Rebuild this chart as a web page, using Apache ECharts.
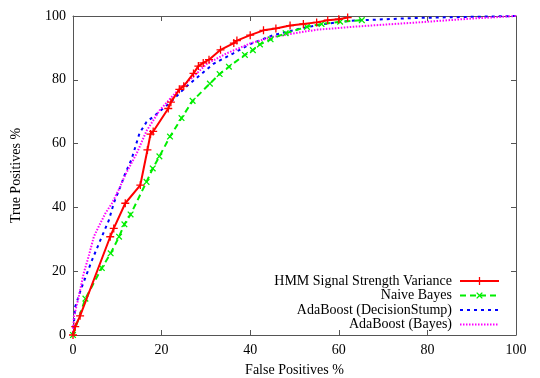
<!DOCTYPE html>
<html>
<head>
<meta charset="utf-8">
<script src="https://cdn.jsdelivr.net/npm/echarts@6/dist/echarts.min.js"></script>
<style>html,body{margin:0;padding:0;background:#fff}#c{width:540px;height:378px}</style>
</head>
<body>
<div id="c"></div>
<script>
const seriesNames = ["HMM Signal Strength Variance", "Naive Bayes", "AdaBoost (DecisionStump)", "AdaBoost (Bayes)"];
const hmmData = [[0,0],[0.5,2.6],[1.6,6],[8.4,30.8],[9.2,33.4],[11.8,41.3],[15.2,47],[16.8,58],[17.5,63],[18.1,63.8],[21.5,71],[22.1,73],[24,77],[25,78],[27.2,82],[28.3,84.3],[29.4,85.3],[30.7,86.3],[33.3,89.4],[36.3,91.5],[37,92.3],[40,94],[43,95.5],[45.8,96.1],[49,97],[52,97.5],[55,98],[57.5,98.7],[60,99],[62,99.5]];
const naiveBayesData = [[0,0],[2.8,11.4],[6.5,21],[8.5,25.6],[10.4,30.8],[11.6,34.7],[13,37.8],[16.6,48],[18,52.2],[19.5,56],[21.9,62.2],[24.5,68],[27,73.4],[30.9,78.8],[33.1,81.8],[35.2,84.1],[38.8,87.8],[40.6,89.3],[42.2,91.1],[44.6,92.7],[48,94.6],[52.8,96.6],[56.1,97.5],[60.3,98.2],[65.2,98.7]];
const adaStumpData = [[0,0],[0.1,2],[0.5,8.9],[2,15.1],[4.3,23.5],[6.2,29.8],[8.1,36],[9.2,41.3],[10.7,46.5],[11.8,50.7],[13.2,55],[15,63.2],[16.6,66.8],[18.1,68.4],[21.9,72.8],[25.5,77.8],[28.7,81.5],[31.7,85],[36.2,88.3],[40,91.2],[45.2,94],[51.2,96],[55.8,97.3],[62.5,98.5],[77.6,99.4],[100,100]];
const adaBayesData = [[0,0],[0.2,5.7],[1.3,12],[2.4,19.3],[3.5,24.5],[4.7,30.8],[5.8,34],[7.3,38.1],[8.8,41.3],[10.3,45.5],[11.8,50.2],[14.4,57],[16.6,64],[19.6,70.5],[23.4,76.3],[26.4,80],[30.2,85],[34.7,88.3],[40,91.4],[45.2,93.5],[55,95.7],[65,96.8],[78,98],[90,99.2],[100,100]];
const xTicks = [0,20,40,60,80,100];
const yTicks = [0,20,40,60,80,100];
const xTitle = "False Positives %";
const yTitle = "True Positives %";

const FONT = "'Liberation Serif','DejaVu Serif',serif";
const PLUS = 'path://M-1,-0.16L-0.16,-0.16L-0.16,-1L0.16,-1L0.16,-0.16L1,-0.16L1,0.16L0.16,0.16L0.16,1L-0.16,1L-0.16,0.16L-1,0.16Z';
const frameColor = '#555';

function axisBase(pos, show) {
  return {
    type: 'value', min: xTicks[0], max: xTicks[xTicks.length-1], interval: 20, position: pos,
    axisLine: {show: true, onZero: false, lineStyle: {color: frameColor, width: 1}},
    axisTick: {show: true, inside: true, length: 5, lineStyle: {color: frameColor}},
    splitLine: {show: false},
    axisLabel: {show: show, color: '#000', fontFamily: FONT, fontSize: 14, margin: 8}
  };
}
const xMain = Object.assign(axisBase('bottom', true), {name: xTitle, nameLocation: 'middle', nameGap: 28, nameTextStyle: {fontFamily: FONT, fontSize: 14, color: '#000'}});
const xTop = axisBase('top', false);
const yMain = Object.assign(axisBase('left', true), {min: yTicks[0], max: yTicks[yTicks.length-1], name: yTitle, nameLocation: 'middle', nameGap: 50, nameTextStyle: {fontFamily: FONT, fontSize: 14, color: '#000'}});
yMain.axisLabel.margin = 7;
const yRight = Object.assign(axisBase('right', false), {min: yTicks[0], max: yTicks[yTicks.length-1]});

const chart = echarts.init(document.getElementById('c'), null, {renderer: 'canvas'});
chart.setOption({
  animation: false,
  backgroundColor: '#fff',
  grid: {left: 73, right: 24, top: 16, bottom: 43, containLabel: false, outerBoundsMode: 'none'},
  xAxis: [xMain, xTop],
  yAxis: [yMain, yRight],
  legend: {
    data: seriesNames, orient: 'vertical', right: 40, top: 274, align: 'right',
    itemWidth: 39, itemHeight: 10, itemGap: 0.5, padding: 0,
    textStyle: {fontFamily: FONT, fontSize: 14, lineHeight: 12, color: '#000', padding: [0, 3, 0, 0]}
  },
  series: [
    {name: seriesNames[2], type: 'line', data: adaStumpData, z: 2, symbol: 'none', showSymbol: false,
     lineStyle: {color: '#0000ff', width: 2, type: [3, 4]}, itemStyle: {color: '#0000ff', opacity: 0}},
    {name: seriesNames[3], type: 'line', data: adaBayesData, z: 3, symbol: 'none', showSymbol: false,
     lineStyle: {color: '#ff00ff', width: 2, type: [1.5, 1.5]}, itemStyle: {color: '#ff00ff', opacity: 0}},
    {name: seriesNames[1], type: 'line', data: naiveBayesData, z: 4, symbol: PLUS, symbolSize: 8, symbolRotate: 45, showAllSymbol: true,
     lineStyle: {color: '#00ee00', width: 2, type: [6, 4]}, itemStyle: {color: '#00ee00'}},
    {name: seriesNames[0], type: 'line', data: hmmData, z: 5, symbol: PLUS, symbolSize: 8, showAllSymbol: true,
     lineStyle: {color: '#ff0000', width: 2}, itemStyle: {color: '#ff0000'}}
  ]
});
</script>
</body>
</html>
